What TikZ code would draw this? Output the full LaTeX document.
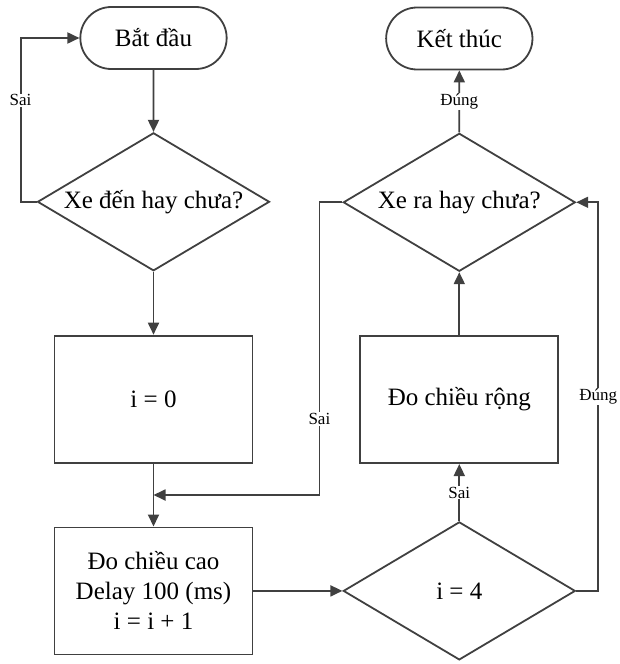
\documentclass[tikz,border=0pt]{standalone}
\usepackage{fontspec}
\setmainfont{Liberation Serif}
\usetikzlibrary{arrows.meta, positioning, shapes.geometric, shapes.misc, calc}
\definecolor{linegray}{RGB}{64,64,64}
\tikzset{%
	term/.style={draw=linegray, line width=1.8pt, rounded rectangle, minimum width=153pt,%
		minimum height=62pt, font=\fontsize{25}{30}\selectfont},
	dec/.style={draw=linegray, line width=1.8pt, diamond, aspect=1.68, inner sep=0pt,%
		minimum width=232pt, minimum height=138pt, font=\fontsize{25}{30}\selectfont},
	proc/.style={draw=linegray, line width=1.8pt, rectangle, minimum width=198pt,%
		minimum height=127pt, align=center, font=\fontsize{25}{30}\selectfont},
	flow/.style={-{Triangle[length=12pt,width=11pt]}, line width=1.8pt, draw=linegray},
	lbl/.style={fill=white, inner sep=1pt, font=\fontsize{17}{20}\selectfont}
}
\begin{document}
\begin{tikzpicture}[x=1pt, y=-1pt]
			\useasboundingbox (0,0) rectangle (619,664);
			\node[term] (start) at (153.5,38) {Bắt đầu};
			\node[dec]  (xeden) [below=62pt of start] {Xe đến hay chưa?};
			\node[proc] (init) [below=63pt of xeden] {i = 0};
			\node[proc] (measure) [below=63pt of init] {Đo chiều cao\\Delay 100 (ms)\\i = i + 1};
			\node[dec]  (check) [right=89pt of measure] {i = 4};
			\node[proc] (width) [above=57pt of check] {Đo chiều rộng};
			\node[dec]  (xera) [above=63pt of width] {Xe ra hay chưa?};
			\node[term] (stop) [above=62pt of xera] {Kết thúc};
			\coordinate (join) at ($(init.south)!0.5!(measure.north)$);
			\draw [flow] (start) to (xeden);
			\draw [flow] (xeden) to (init);
			\draw [flow] (init) to (measure);
			\draw [flow] (measure) to (check);
			\draw [flow] (check) to node[lbl]{Sai} (width);
			\draw [flow] (width) to (xera);
			\draw [flow] (xera) to node[lbl]{Đúng} (stop);
			\draw [flow] (xeden.west) -- ++(-16,0) |- node[lbl, pos=0.31]{Sai} (start.west);
			\draw [flow] (xera.west) -- ++(-23,0) |- node[lbl, pos=0.37]{Sai} (join);
			\draw [flow] (check.east) -- ++(22,0) |- node[lbl, pos=0.25]{Đúng} (xera.east);
		\end{tikzpicture}
\end{document}
